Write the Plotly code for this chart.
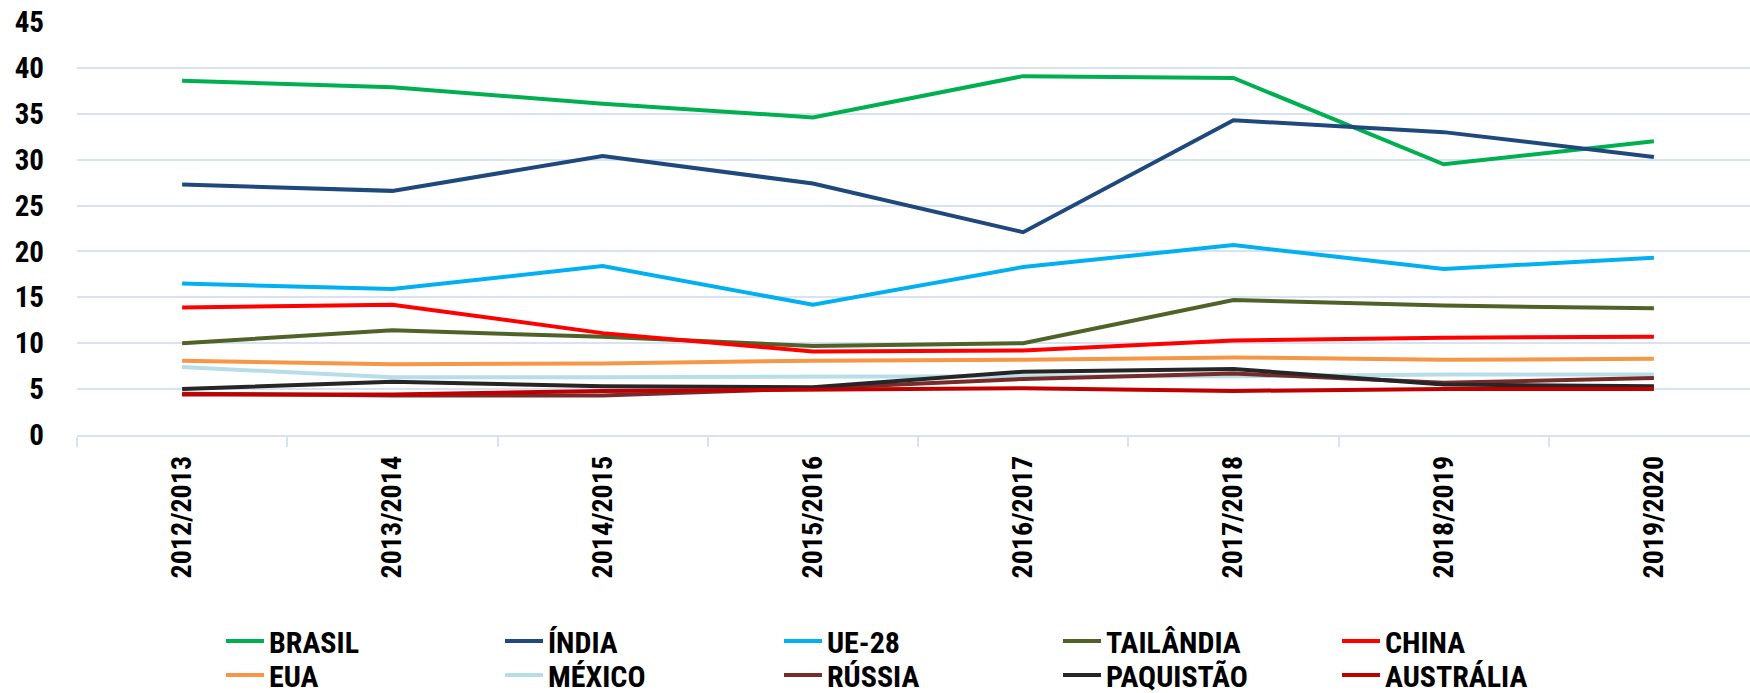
import plotly.graph_objects as go

seasons = ["2012/2013", "2013/2014", "2014/2015", "2015/2016",
           "2016/2017", "2017/2018", "2018/2019", "2019/2020"]

brasil = [38.6, 37.9, 36.1, 34.6, 39.1, 38.9, 29.5, 32.0]
india = [27.3, 26.6, 30.4, 27.4, 22.1, 34.3, 33.0, 30.3]
ue28 = [16.5, 15.9, 18.4, 14.2, 18.3, 20.7, 18.1, 19.3]
tailandia = [10.0, 11.4, 10.7, 9.7, 10.0, 14.7, 14.1, 13.8]
china = [13.9, 14.2, 11.1, 9.1, 9.2, 10.3, 10.6, 10.7]
eua = [8.1, 7.7, 7.8, 8.1, 8.2, 8.45, 8.2, 8.3]
mexico = [7.4, 6.3, 6.3, 6.4, 6.4, 6.4, 6.6, 6.6]
russia = [4.5, 4.3, 4.3, 5.1, 6.1, 6.7, 5.7, 6.2]
paquistao = [5.0, 5.8, 5.3, 5.2, 6.9, 7.2, 5.5, 5.3]
australia = [4.4, 4.4, 4.8, 5.0, 5.1, 4.8, 5.0, 5.0]

series_names = ["BRASIL", "ÍNDIA", "UE-28", "TAILÂNDIA", "CHINA",
                "EUA", "MÉXICO", "RÚSSIA", "PAQUISTÃO", "AUSTRÁLIA"]
series_values = [brasil, india, ue28, tailandia, china,
                 eua, mexico, russia, paquistao, australia]
series_colors = ["#00B050", "#1F497D", "#00B0F0", "#4F6228", "#FF0000",
                 "#F79646", "#B7DEE8", "#772C2A", "#262626", "#C00000"]

FONT = "Liberation Sans Narrow, Arial Narrow, Roboto Condensed, DejaVu Sans Condensed, sans-serif"
GRID = "#D9E2F3"

fig = go.Figure()
for i, (name, vals, col) in enumerate(zip(series_names, series_values, series_colors)):
    fig.add_trace(go.Scatter(
        x=seasons, y=vals, name=name, mode="lines",
        line=dict(color=col, width=4),
        legend="legend" if i < 5 else "legend2",
    ))

legend_common = dict(
    orientation="h", xref="container", yref="container",
    x=221 / 1750, xanchor="left", yanchor="middle",
    entrywidth=226, entrywidthmode="pixels",
    font=dict(family=FONT, size=30, color="#000000", weight="bold"),
    bgcolor="rgba(0,0,0,0)", itemwidth=38, tracegroupgap=0,
)

fig.update_layout(
    width=1750, height=693,
    margin=dict(l=77, r=0, t=22, b=258),
    plot_bgcolor="white", paper_bgcolor="white",
    font=dict(family=FONT, size=28, color="#000000", weight="bold"),
    legend=dict(legend_common, y=1 - 641 / 693),
    legend2=dict(legend_common, y=1 - 675 / 693),
    xaxis=dict(
        type="category", range=[-0.5, 7.457], automargin=False,
        showgrid=False, showline=True, linecolor=GRID, linewidth=1.5,
        ticks="outside", tickson="boundaries", ticklen=10, tickcolor=GRID, tickwidth=1.5,
        tickangle=-90, ticklabelstandoff=8,
        tickfont=dict(family=FONT, size=28, color="#000000", weight="bold"),
    ),
    yaxis=dict(
        range=[0, 45], dtick=5, showgrid=True, gridcolor=GRID, gridwidth=1.5,
        zeroline=False, showline=False, ticks="", automargin=False,
        ticklabelstandoff=32,
        tickfont=dict(family=FONT, size=29, color="#000000", weight="bold"),
    ),
    showlegend=True,
)

fig.write_html(
    "out.html",
    config={"displayModeBar": False},
    post_script="document.body.style.margin='0';document.body.style.overflow='hidden';",
)
